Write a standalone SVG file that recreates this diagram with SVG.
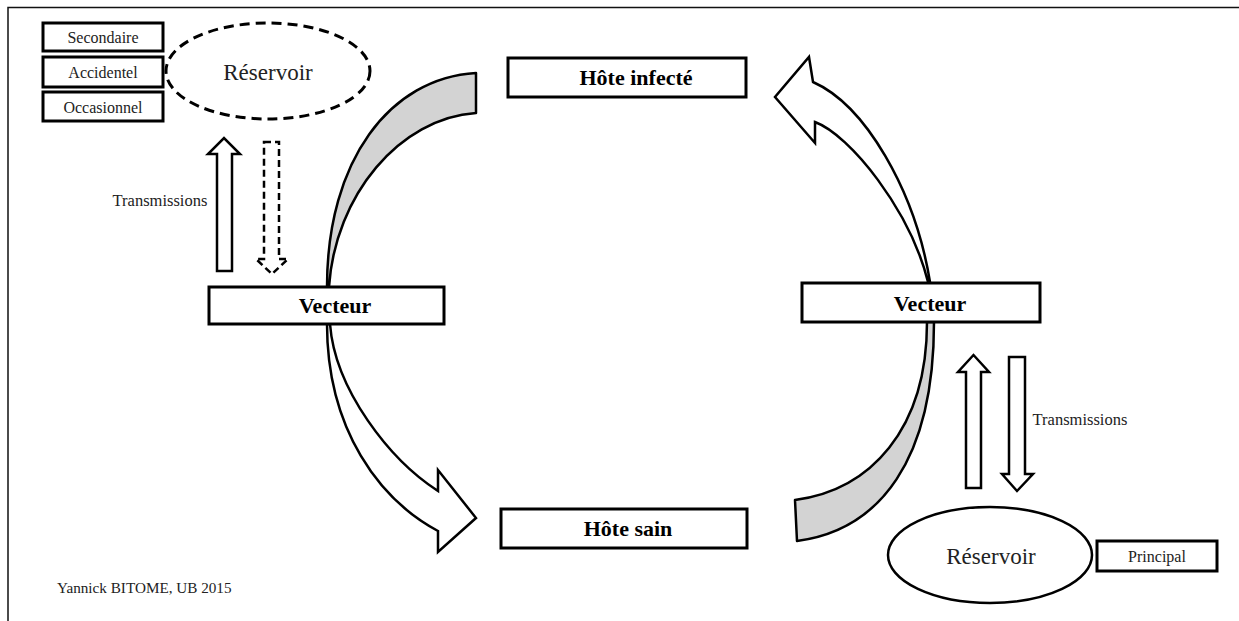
<svg xmlns="http://www.w3.org/2000/svg" width="1239" height="621" viewBox="0 0 1239 621">
<style>
.box{fill:#fff;stroke:#000;stroke-width:3}
.lbl{font-family:"Liberation Serif","DejaVu Serif",serif;fill:#222;text-anchor:middle}
.bold{font-family:"Liberation Serif","DejaVu Serif",serif;font-weight:bold;fill:#000;text-anchor:middle;font-size:22px}
.band{fill:#d3d3d3;stroke:#000;stroke-width:2.5;stroke-linejoin:round}
.warrow{fill:#fff;stroke:#000;stroke-width:2.5;stroke-linejoin:miter}
.tarrow{fill:#fff;stroke:#000;stroke-width:2.5}
</style>
<rect width="1239" height="621" fill="#fff"/>
<path d="M8,621 L8,7.5 L1239,7.5" fill="none" stroke="#111" stroke-width="1.5"/>

<g id="connectors">
  <path class="band" d="M476,73 C390,78 327,160 327,287 L329,287 C335,195 400,118 476,113 Z"/>
  <path class="warrow" d="M327,324 C327,430 380,500 438,531 L438,552 L476,518 L438,470 L438,491 C390,460 335,390 330,324 Z"/>
  <path class="warrow" d="M930,282 C915,190 865,105 813,82 L809,57 L775,97 L815,143 L815,122 C850,135 910,210 928,282 Z"/>
  <path class="band" d="M927,322 C927,430 870,490 795,500 L797,541 C880,530 934,460 934,322 Z"/>
  <path class="tarrow" d="M217,271 L217,154 L208,154 L224,138 L240,154 L232,154 L232,271 Z"/>
  <path class="tarrow" stroke-dasharray="7,4" d="M264,142 L279,142 L279,259 L288,259 L272,274 L256,259 L264,259 Z"/>
  <path class="tarrow" d="M966,488 L966,372 L958,372 L973.5,355 L989,372 L981,372 L981,488 Z"/>
  <path class="tarrow" d="M1009,357 L1025,357 L1025,474 L1033,474 L1017,491 L1002,474 L1009,474 Z"/>
</g>

<g id="reservoir-left">
  <ellipse cx="268" cy="71" rx="102" ry="48" fill="#fff" stroke="#000" stroke-width="3" stroke-dasharray="10,6"/>
  <text class="lbl" x="268" y="80" font-size="23">Réservoir</text>
</g>
<g id="secondaire">
  <rect class="box" x="43" y="23" width="120" height="28"/>
  <text class="lbl" x="103" y="43" font-size="16">Secondaire</text>
</g>
<g id="accidentel">
  <rect class="box" x="43" y="57" width="120" height="30"/>
  <text class="lbl" x="103" y="78" font-size="16">Accidentel</text>
</g>
<g id="occasionnel">
  <rect class="box" x="43" y="92" width="120" height="29"/>
  <text class="lbl" x="103" y="113" font-size="16">Occasionnel</text>
</g>
<g id="transmissions-left">
  <text class="lbl" x="160" y="206" font-size="16.5">Transmissions</text>
</g>
<g id="hote-infecte">
  <rect class="box" x="508" y="58" width="238" height="39"/>
  <text class="bold" x="636" y="85">Hôte infecté</text>
</g>
<g id="vecteur-left">
  <rect class="box" x="209" y="287" width="235" height="37"/>
  <text class="bold" x="335" y="313">Vecteur</text>
</g>
<g id="vecteur-right">
  <rect class="box" x="802" y="283" width="238" height="39"/>
  <text class="bold" x="930" y="311">Vecteur</text>
</g>
<g id="hote-sain">
  <rect class="box" x="501" y="509" width="246" height="39"/>
  <text class="bold" x="628" y="536">Hôte sain</text>
</g>
<g id="transmissions-right">
  <text class="lbl" x="1080" y="425" font-size="16.5">Transmissions</text>
</g>
<g id="reservoir-right">
  <ellipse cx="990" cy="555" rx="102" ry="48" fill="#fff" stroke="#000" stroke-width="2.5"/>
  <text class="lbl" x="991" y="564" font-size="23">Réservoir</text>
</g>
<g id="principal">
  <rect class="box" x="1097" y="541" width="120" height="30"/>
  <text class="lbl" x="1157" y="562" font-size="16">Principal</text>
</g>
<g id="credit">
  <text class="lbl" x="57" y="593" font-size="15.2" style="text-anchor:start">Yannick BITOME, UB 2015</text>
</g>
</svg>
